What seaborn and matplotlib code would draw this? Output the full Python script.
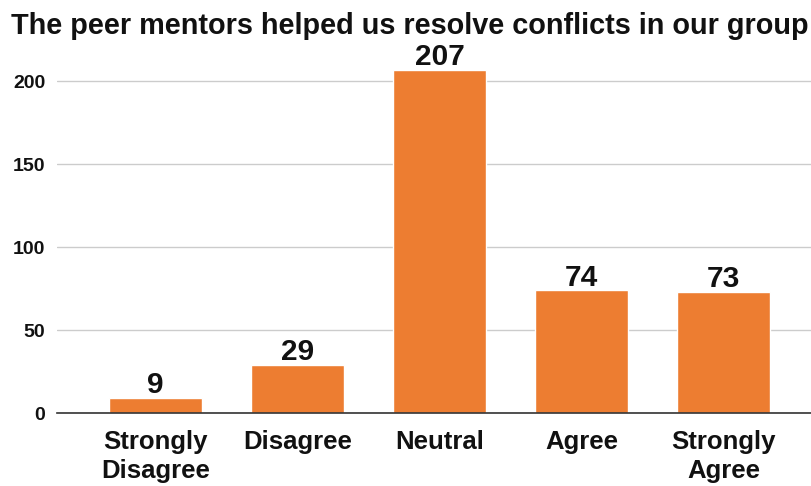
import matplotlib
matplotlib.use("Agg")
import matplotlib.pyplot as plt
import seaborn as sns
import pandas as pd

categories = ["Strongly\nDisagree", "Disagree", "Neutral", "Agree", "Strongly\nAgree"]
counts = [9, 29, 207, 74, 73]
y_ticks = [0, 50, 100, 150, 200]
title = "The peer mentors helped us resolve conflicts in our group"

bar_color = "#ED7D31"

sns.set_theme(style="white")
plt.rcParams["font.family"] = ["Liberation Sans", "DejaVu Sans"]

df = pd.DataFrame({"response": categories, "count": counts})

fig = plt.figure(figsize=(8.12, 4.86), dpi=100)
ax = fig.add_axes([57 / 812, 73 / 486, 1 - 57 / 812, 365 / 486])

sns.barplot(data=df, x="response", y="count", color=bar_color, width=0.655,
            saturation=1, ax=ax, zorder=3)

ax.set_xlim(-0.694, 4.62)
ax.set_ylim(0, 220)
ax.set_yticks(y_ticks)
ax.yaxis.grid(True, color="#cccccc", linewidth=1.0, zorder=0)
ax.set_axisbelow(True)
for side in ["top", "right", "left"]:
    ax.spines[side].set_visible(False)
ax.spines["bottom"].set_color("#333333")
ax.spines["bottom"].set_linewidth(1.2)
ax.spines["bottom"].set_zorder(4)

ax.set_xlabel("")
ax.set_ylabel("")
ax.tick_params(axis="y", length=0, pad=8.5, labelsize=14)
ax.tick_params(axis="x", length=0, pad=12.5, labelsize=18.5)
for lab in ax.get_yticklabels() + ax.get_xticklabels():
    lab.set_fontweight("bold")
    lab.set_color("#111111")
for lab in ax.get_xticklabels():
    lab.set_linespacing(1.22)

for i, v in enumerate(counts):
    ax.annotate(str(v), xy=(i, v), xytext=(0, -1), textcoords="offset points",
                ha="center", va="bottom", fontsize=21.5, fontweight="bold",
                color="#111111")

fig.text(0.505, 0.976, title, ha="center", va="top", fontsize=20.8,
         fontweight="bold", color="#111111")

fig.savefig("out.png", dpi=100)
